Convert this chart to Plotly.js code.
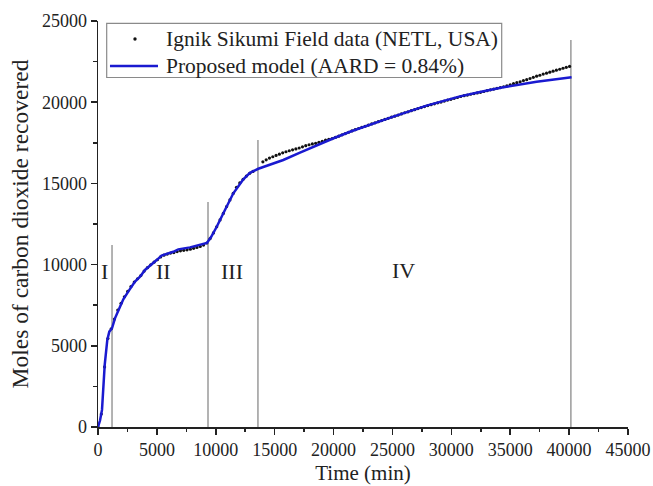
<!DOCTYPE html>
<html>
<head>
<meta charset="utf-8">
<script src="https://cdn.plot.ly/plotly-3.0.1.min.js"></script>
<style>html,body{margin:0;padding:0;background:#fff;}#chart{width:653px;height:486px;}</style>
</head>
<body>
<div id="chart"></div>
<script>
// Field data (dots)
var fieldTime = [0, 280, 560, 840, 1120, 1400, 1680, 1960, 2240, 2520, 2800, 3080, 3360, 3640, 3920, 4200, 4480, 4760, 5040, 5320, 5600, 5880, 6160, 6440, 6720, 7000, 7280, 7560, 7840, 8120, 8400, 8680, 8960, 9240, 9520, 9800, 10080, 10360, 10640, 10920, 11200, 11480, 11760, 12040, 12320, 12600, 12880, 13160,
  14000, 14280, 14560, 14840, 15120, 15400, 15680, 15960, 16240, 16520, 16800,
  17080, 17360, 17640, 17920, 18200, 18480, 18760, 19040, 19320, 19600, 19880,
  20160, 20440, 20720, 21000, 21280, 21560, 21840, 22120, 22400, 22680, 22960,
  23240, 23520, 23800, 24080, 24360, 24640, 24920, 25200, 25480, 25760, 26040,
  26320, 26600, 26880, 27160, 27440, 27720, 28000, 28280, 28560, 28840, 29120,
  29400, 29680, 29960, 30240, 30520, 30800, 31080, 31360, 31640, 31920, 32200,
  32480, 32760, 33040, 33320, 33600, 33880, 34160, 34440, 34720, 35000, 35280,
  35560, 35840, 36120, 36400, 36680, 36960, 37240, 37520, 37800, 38080, 38360,
  38640, 38920, 39200, 39480, 39760, 40040];
var fieldMoles = [0, 800, 3700, 5450, 6050, 6650, 7200, 7620, 8020, 8350, 8650, 8930, 9130, 9330, 9600, 9810, 9990, 10150, 10300, 10470, 10580, 10650, 10710, 10740, 10800, 10850, 10880, 10910, 10950, 11000, 11060, 11120, 11200, 11330, 11600, 11950, 12330, 12750, 13150, 13570, 13980, 14380, 14760, 15030, 15250, 15450, 15620, 15740,
  16330, 16450, 16560, 16640, 16720, 16800, 16880, 16950, 17010, 17070, 17120,
  17180, 17250, 17320, 17380, 17430, 17470, 17530, 17590, 17660, 17720, 17760,
  17830, 17910, 17990, 18070, 18150, 18230, 18310, 18380, 18450, 18520, 18590,
  18660, 18730, 18800, 18870, 18940, 19010, 19080, 19140, 19210, 19280, 19350,
  19410, 19480, 19540, 19610, 19670, 19730, 19790, 19850, 19900, 19960, 20010,
  20070, 20130, 20180, 20240, 20290, 20350, 20400, 20440, 20490, 20530, 20570,
  20610, 20660, 20710, 20760, 20810, 20860, 20900, 20950, 21010, 21070, 21140,
  21200, 21260, 21330, 21390, 21460, 21530, 21600, 21660, 21730, 21790, 21850,
  21910, 21970, 22030, 22090, 22150, 22200];

// Proposed model (line)
var modelTime = [0, 170, 340, 570, 790, 960, 1190, 1440, 1870, 2150, 2580, 3140, 3570, 3990, 4980, 5400, 6390, 6820, 7810, 8230, 8800, 9250, 9600, 10080, 10780, 11490, 12340, 12900, 13610, 14600, 15730, 17150, 18570, 20000, 21390, 23090, 25070, 27900, 30730, 32430, 34410, 37240, 40210];
var modelMoles = [0, 400, 1050, 3820, 5360, 5870, 6080, 6690, 7410, 7860, 8350, 8950, 9260, 9670, 10280, 10560, 10790, 10940, 11060, 11150, 11230, 11330, 11700, 12330, 13360, 14390, 15250, 15650, 15900, 16150, 16440, 16900, 17360, 17780, 18180, 18620, 19110, 19790, 20360, 20630, 20920, 21260, 21530];

// Stage boundaries and labels
var boundaryTime = [1190, 9340, 13580, 40150];
var boundaryTop = [11200, 13850, 17670, 23830];
var stageLabels = ['I', 'II', 'III', 'IV'];
var stageLabelTime = [550, 5600, 11400, 25900];
var stageLabelMoles = [9600, 9600, 9600, 9650];

var seriesNames = ['Ignik Sikumi Field data (NETL, USA)', 'Proposed model (AARD = 0.84%)'];

var serif = 'Liberation Serif, Times New Roman, serif';
var dataColor = '#111';
var modelColor = '#1a1ad0';

var traces = [
  {x: fieldTime, y: fieldMoles, mode: 'markers', type: 'scatter', name: seriesNames[0],
   marker: {color: dataColor, size: 3.2}},
  {x: modelTime, y: modelMoles, mode: 'lines', type: 'scatter', name: seriesNames[1],
   line: {color: modelColor, width: 2.5}}
];

var shapes = boundaryTime.map(function (t, i) {
  return {type: 'line', xref: 'x', yref: 'y', x0: t, x1: t, y0: 0, y1: boundaryTop[i],
    line: {color: '#9a9a9a', width: 1.5}, layer: 'below'};
});

// Legend box (compact, like the original figure)
shapes.push({type: 'rect', xref: 'paper', yref: 'paper', x0: 0.0164, x1: 0.7617, y0: 0.8608, y1: 0.9943,
  fillcolor: '#fff', line: {color: '#8a8a8a', width: 1.2}, layer: 'above'});
shapes.push({type: 'circle', xref: 'paper', yref: 'paper', x0: 0.0698 - 0.0032, x1: 0.0698 + 0.0032,
  y0: 0.9557 - 0.0042, y1: 0.9557 + 0.0042, fillcolor: dataColor, line: {width: 0}, layer: 'above'});
shapes.push({type: 'line', xref: 'paper', yref: 'paper', x0: 0.0226, x1: 0.1132, y0: 0.8892, y1: 0.8892,
  line: {color: modelColor, width: 2.5}, layer: 'above'});

var annotations = stageLabels.map(function (s, i) {
  return {x: stageLabelTime[i], y: stageLabelMoles[i], xref: 'x', yref: 'y', text: s,
    showarrow: false, font: {family: serif, size: 22, color: '#222'}};
});
annotations.push({x: 0.1245, y: 0.9557, xref: 'paper', yref: 'paper', xanchor: 'left', yanchor: 'middle',
  text: seriesNames[0], showarrow: false, font: {family: serif, size: 21.5, color: '#222'}});
annotations.push({x: 0.1245, y: 0.8892, xref: 'paper', yref: 'paper', xanchor: 'left', yanchor: 'middle',
  text: seriesNames[1], showarrow: false, font: {family: serif, size: 21.5, color: '#222'}});

var axisCommon = {
  showgrid: false, zeroline: false, showline: true, linecolor: '#222', linewidth: 1.5,
  ticks: 'outside', ticklen: 6, tickwidth: 1.5, tickcolor: '#222', tickformat: 'd',
  tickfont: {family: serif, size: 18, color: '#222'},
  minor: {ticks: 'outside', ticklen: 3.5, tickwidth: 1.5, tickcolor: '#222', dtick: 2500}
};

var layout = {
  width: 653, height: 486,
  margin: {l: 98, r: 25, t: 21, b: 59},
  paper_bgcolor: '#fff', plot_bgcolor: '#fff',
  showlegend: false,
  xaxis: Object.assign({}, axisCommon, {range: [0, 45000], dtick: 5000, tick0: 0,
    title: {text: 'Time (min)', font: {family: serif, size: 21, color: '#222'}, standoff: 6}}),
  yaxis: Object.assign({}, axisCommon, {range: [0, 25000], dtick: 5000, tick0: 0,
    title: {text: 'Moles of carbon dioxide recovered', font: {family: serif, size: 23.5, color: '#222'}, standoff: 6}}),
  shapes: shapes,
  annotations: annotations,
  hovermode: false
};

Plotly.newPlot('chart', traces, layout, {displayModeBar: false, staticPlot: true});
</script>
</body>
</html>
